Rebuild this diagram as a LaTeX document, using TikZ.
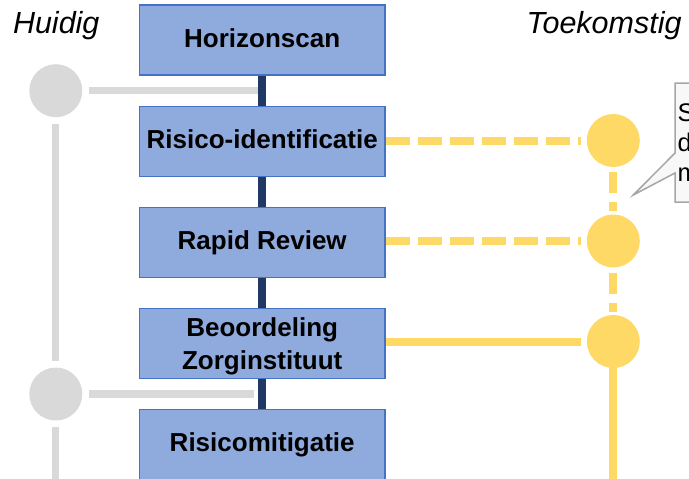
\documentclass[tikz,border=0pt]{standalone}
\usepackage{fontspec}
\setmainfont{Liberation Sans}
\definecolor{boxfill}{HTML}{8FAADC}
\definecolor{boxline}{HTML}{4472C4}
\definecolor{navy}{HTML}{203864}
\definecolor{greyline}{HTML}{D9D9D9}
\definecolor{gold}{HTML}{FFD966}
\definecolor{noteline}{HTML}{A6A6A6}
\definecolor{notefill}{HTML}{F8F8F8}
\begin{document}
\begin{tikzpicture}[x=1pt,y=-1pt,
  stage/.style={draw=boxline, line width=1.5pt, fill=boxfill,
    minimum width=245.7pt, minimum height=70pt, inner sep=0pt,
    font=\fontsize{26}{32.5}\selectfont\bfseries, align=center},
  oneline/.style={text height=19pt, text depth=5pt},
  dotgrey/.style={circle, fill=greyline, minimum size=53pt, inner sep=0pt},
  dotgold/.style={circle, fill=gold, minimum size=53pt, inner sep=0pt},
  greylink/.style={draw=greyline, line width=7.3pt},
  goldlink/.style={draw=gold, line width=8pt},
  golddash/.style={goldlink, dash pattern=on 24pt off 8pt},
  spine/.style={draw=navy, line width=7.5pt},
  period/.style={font=\fontsize{30.5}{36}\selectfont\itshape, inner sep=0pt, anchor=base west},
  notetext/.style={font=\fontsize{25.5}{30}\selectfont, inner sep=0pt, anchor=base west}
]
\useasboundingbox (0,0) rectangle (689,479);
\clip (0,0) rectangle (689,479);

% column headings
\node[period] (huidig) at (12.8,33.3) {Huidig};
\node[period] (toekomstig) at (526.5,33.3) {Toekomstig};

% process stages
\node[stage, oneline] (scan) at (262.2,40) {Horizonscan};
\node[stage, oneline] (ident) at (262.2,141.5) {Risico-identificatie};
\node[stage, oneline] (review) at (262.2,242.5) {Rapid Review};
\node[stage, text depth=0pt] (zin) at (262.2,343.5) {Beoordeling\\Zorginstituut};
\node[stage, oneline] (mitig) at (262.2,444.5) {Risicomitigatie};

% current route (grey)
\node[dotgrey] (cur1) at (55.8,90.7) {};
\node[dotgrey] (cur2) at (55.8,394) {};
\coordinate (curjoin1) at (259,90.7);
\coordinate (curjoin2) at (254,394);
\coordinate (curend) at (55.8,490);
\draw[greylink, shorten <=6.5pt] (cur1.east) -- (curjoin1);
\draw[greylink, shorten <=6.5pt] (cur2.east) -- (curjoin2);
\draw[greylink, shorten <=6.5pt, shorten >=6.5pt] (cur1.south) -- (cur2.north);
\draw[greylink, shorten <=6.5pt] (cur2.south) -- (curend);

% spine between the stages
\draw[spine] (scan.south) -- (ident.north);
\draw[spine] (ident.south) -- (review.north);
\draw[spine] (review.south) -- (zin.north);
\draw[spine] (zin.south) -- (mitig.north);

% future route (gold)
\coordinate (futend) at (613.3,490);
\draw[goldlink] (613.3,341.5) -- (futend);
\node[dotgold] (fut1) at (613.3,140.5) {};
\node[dotgold] (fut2) at (613.3,241) {};
\node[dotgold] (fut3) at (613.3,341.5) {};
\draw[golddash, shorten >=6pt] (fut1 -| ident.east) -- (fut1.west);
\draw[golddash, shorten >=6pt] (fut2 -| review.east) -- (fut2.west);
\draw[goldlink, shorten >=6pt] (fut3 -| zin.east) -- (fut3.west);
\draw[goldlink, dash pattern=on 21pt off 9pt, shorten <=5pt, shorten >=3pt] (fut1.south) -- (fut2.north);
\draw[goldlink, dash pattern=on 21pt off 9pt, shorten <=5pt, shorten >=3pt] (fut2.south) -- (fut3.north);

% speech callout
\draw[draw=noteline, fill=notefill, line width=1.5pt, line join=miter]
  (675,83) -- (700,83) -- (700,202) -- (675,202) -- (675,173)
  -- (633.3,195) -- (675,153) -- cycle;
\node[notetext] (noteS) at (677.3,121.7) {S};
\node[notetext] (noteD) at (677.3,151.7) {d};
\node[notetext] (noteM) at (677.3,181.7) {m};
\end{tikzpicture}
\end{document}
